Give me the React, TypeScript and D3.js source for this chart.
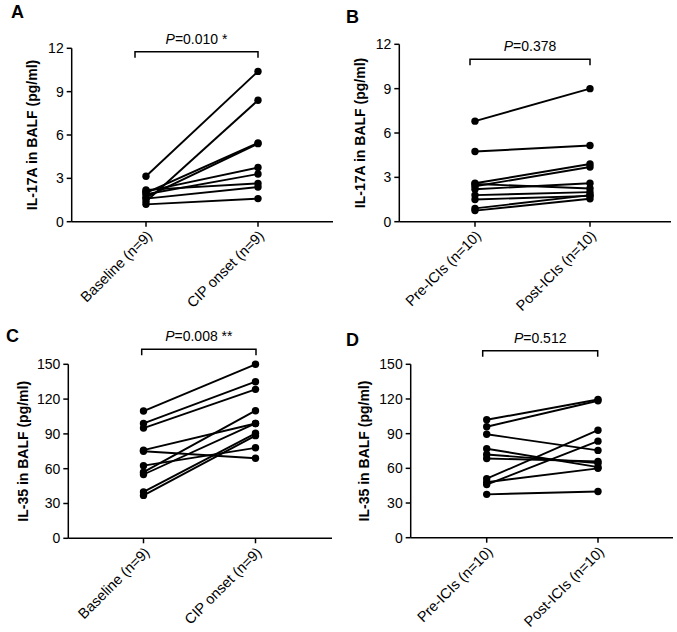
import React from "react";
import * as d3 from "d3";

const W = 677;
const H = 632;

// Panel A: IL-17A, Baseline vs CIP onset
const catsA = ["Baseline (n=9)", "CIP onset (n=9)"];
const beforeA = [3.15, 1.4, 2.0, 1.7, 2.1, 1.9, 2.2, 1.6, 1.2];
const afterA = [10.4, 8.4, 5.45, 5.4, 3.75, 3.3, 2.65, 2.4, 1.6];
const ticksA = [0, 3, 6, 9, 12];

// Panel B: IL-17A, Pre vs Post ICIs
const catsB = ["Pre-ICIs (n=10)", "Post-ICIs (n=10)"];
const beforeB = [6.8, 4.75, 2.6, 2.4, 2.55, 2.2, 1.8, 1.5, 0.9, 0.75];
const afterB = [9.0, 5.15, 3.9, 3.7, 2.25, 2.6, 2.0, 1.75, 1.8, 1.55];
const ticksB = [0, 3, 6, 9, 12];

// Panel C: IL-35, Baseline vs CIP onset
const catsC = ["Baseline (n=9)", "CIP onset (n=9)"];
const beforeC = [109.7, 99, 95, 76, 75, 62.6, 57, 55, 40, 37];
const afterC = [150, 135, 128.4, 99, 69, 78, 110, 99, 90.5, 88.5];
const ticksC = [0, 30, 60, 90, 120, 150];

// Panel D: IL-35, Pre vs Post ICIs
const catsD = ["Pre-ICIs (n=10)", "Post-ICIs (n=10)"];
const beforeD = [102, 96, 89.5, 77, 72, 68.5, 51, 48, 46, 37.5];
const afterD = [119.5, 118.5, 75.5, 61, 64.5, 66, 93, 60, 83.5, 40];
const ticksD = [0, 30, 60, 90, 120, 150];

const FONT = "'Liberation Sans', Arial, Helvetica, sans-serif";

type PanelProps = {
  letter: string;
  letterX: number;
  letterY: number;
  cats: string[];
  before: number[];
  after: number[];
  ticks: number[];
  yTitle: string;
  titleOffset: number;
  pValue: string;
  stars: string;
  axisX: number;
  axisRight: number;
  yTop: number;
  yBottom: number;
  c0: number;
  c1: number;
  bx0: number;
  bx1: number;
  by: number;
};

function Panel(p: PanelProps) {
  const max = p.ticks[p.ticks.length - 1];
  const y = d3.scaleLinear().domain([0, max]).range([p.yBottom, p.yTop]);
  const x = d3.scalePoint<string>().domain(p.cats).range([p.c0, p.c1]);
  const line = d3
    .line<[number, number]>()
    .x((d) => d[0])
    .y((d) => d[1]);
  const xa = x(p.cats[0]) as number;
  const xb = x(p.cats[1]) as number;
  const titleY = (p.yTop + p.yBottom) / 2;
  return (
    <g fontFamily={FONT} fill="#000">
      <text x={p.letterX} y={p.letterY} fontSize={18} fontWeight="bold">
        {p.letter}
      </text>
      {/* y axis */}
      <line x1={p.axisX} x2={p.axisX} y1={p.yTop} y2={p.yBottom} stroke="#000" strokeWidth={1.5} />
      {p.ticks.map((t) => (
        <g key={t}>
          <line x1={p.axisX - 5} x2={p.axisX} y1={y(t)} y2={y(t)} stroke="#000" strokeWidth={1.5} />
          <text x={p.axisX - 8} y={y(t)} dy="0.35em" textAnchor="end" fontSize={14}>
            {t}
          </text>
        </g>
      ))}
      <text
        transform={`translate(${p.axisX - p.titleOffset},${titleY}) rotate(-90)`}
        textAnchor="middle"
        fontSize={14}
        fontWeight="bold"
      >
        {p.yTitle}
      </text>
      {/* x axis */}
      <line x1={p.axisX} x2={p.axisRight} y1={p.yBottom} y2={p.yBottom} stroke="#000" strokeWidth={1.5} />
      {p.cats.map((c) => {
        const cx = x(c) as number;
        return (
          <g key={c}>
            <line x1={cx} x2={cx} y1={p.yBottom} y2={p.yBottom + 5} stroke="#000" strokeWidth={1.5} />
            <text
              transform={`translate(${cx + 7},${p.yBottom + 15}) rotate(-45)`}
              textAnchor="end"
              fontSize={14.5}
            >
              {c}
            </text>
          </g>
        );
      })}
      {/* paired lines */}
      {p.before.map((b, i) => (
        <path
          key={"l" + i}
          d={line([
            [xa, y(b)],
            [xb, y(p.after[i])],
          ]) as string}
          stroke="#000"
          strokeWidth={1.9}
          fill="none"
        />
      ))}
      {p.before.map((b, i) => (
        <circle key={"a" + i} cx={xa} cy={y(b)} r={3.7} fill="#000" />
      ))}
      {p.after.map((a, i) => (
        <circle key={"b" + i} cx={xb} cy={y(a)} r={3.7} fill="#000" />
      ))}
      {/* significance bracket */}
      <path
        d={`M${p.bx0},${p.by + 6}V${p.by}H${p.bx1}V${p.by + 6}`}
        stroke="#000"
        strokeWidth={1.5}
        fill="none"
      />
      <text x={(p.bx0 + p.bx1) / 2} y={p.by - 8} textAnchor="middle" fontSize={14}>
        <tspan fontStyle="italic">P</tspan>
        <tspan>{`=${p.pValue}`}</tspan>
        {p.stars ? <tspan>{` ${p.stars}`}</tspan> : null}
      </text>
    </g>
  );
}

export default function App() {
  return (
    <svg
      width={W}
      height={H}
      viewBox={`0 0 ${W} ${H}`}
      style={{ position: "absolute", left: 0, top: 0, background: "#fff" }}
    >
      <rect width={W} height={H} fill="#fff" />
      <Panel
        letter="A" letterX={11} letterY={18}
        cats={catsA} before={beforeA} after={afterA} ticks={ticksA}
        yTitle="IL-17A in BALF (pg/ml)" titleOffset={35} pValue="0.010" stars="*"
        axisX={71.7} axisRight={333} yTop={48.3} yBottom={221.7}
        c0={146} c1={258} bx0={135} bx1={258} by={51.7}
      />
      <Panel
        letter="B" letterX={346} letterY={23}
        cats={catsB} before={beforeB} after={afterB} ticks={ticksB}
        yTitle="IL-17A in BALF (pg/ml)" titleOffset={34} pValue="0.378" stars=""
        axisX={399.3} axisRight={671} yTop={44.3} yBottom={221.7}
        c0={475} c1={590} bx0={470} bx1={590} by={59.3}
      />
      <Panel
        letter="C" letterX={6} letterY={342}
        cats={catsC} before={beforeC} after={afterC} ticks={ticksC}
        yTitle="IL-35 in BALF (pg/ml)" titleOffset={40} pValue="0.008" stars="**"
        axisX={68.3} axisRight={332} yTop={364.3} yBottom={538.3}
        c0={143.5} c1={255.5} bx0={141.7} bx1={256} by={349.3}
      />
      <Panel
        letter="D" letterX={346} letterY={346}
        cats={catsD} before={beforeD} after={afterD} ticks={ticksD}
        yTitle="IL-35 in BALF (pg/ml)" titleOffset={42} pValue="0.512" stars=""
        axisX={410.7} axisRight={673} yTop={364.3} yBottom={537.7}
        c0={486.7} c1={598} bx0={482.7} bx1={597.7} by={350.7}
      />
    </svg>
  );
}
